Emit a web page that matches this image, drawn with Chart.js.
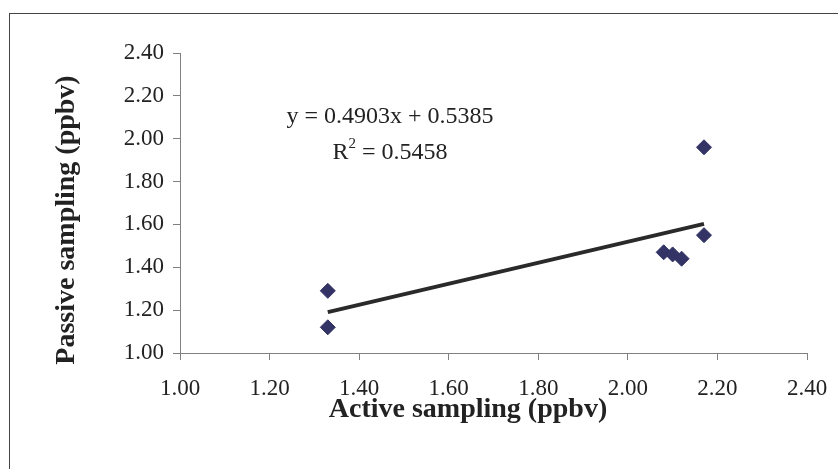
<!DOCTYPE html>
<html>
<head>
<meta charset="utf-8">
<title>Passive vs active sampling</title>
<script src="https://cdn.jsdelivr.net/npm/chart.js@4/dist/chart.umd.min.js"></script>
<style>
    html, body { margin: 0; padding: 0; background: #fff; }
    canvas { display: block; }
</style>
</head>
<body>
<canvas id="chart" width="838" height="469"></canvas>
<script>
// measured samples (ppbv)
const activeSampling = [1.33, 1.33, 2.08, 2.10, 2.12, 2.17, 2.17];
const passiveSampling = [1.29, 1.12, 1.47, 1.46, 1.44, 1.55, 1.96];

// trendline as printed on the chart
const trendSlope = [0.4903];
const trendIntercept = [0.5385];
const trendR2 = [0.5458];

const axisTicks = [1.00, 1.20, 1.40, 1.60, 1.80, 2.00, 2.20, 2.40];

const serif = '"Liberation Serif", "Times New Roman", serif';

const points = activeSampling.map(function(x, i) {
    return { x: x, y: passiveSampling[i] };
});

const xMin = Math.min.apply(null, activeSampling);
const xMax = Math.max.apply(null, activeSampling);
const trend = [xMin, xMax].map(function(x) {
    return { x: x, y: trendSlope[0] * x + trendIntercept[0] };
});

// frame, axis titles and the equation box
const extras = {
    id: 'extras',
    beforeDraw: function(chart) {
        const ctx = chart.ctx;
        ctx.save();
        ctx.fillStyle = '#fff';
        ctx.fillRect(0, 0, chart.width, chart.height);
        ctx.strokeStyle = '#444';
        ctx.lineWidth = 1;
        ctx.strokeRect(9.5, 13.5, 900, 600);
        ctx.restore();
    },
    afterDraw: function(chart) {
        const ctx = chart.ctx;
        ctx.save();
        ctx.fillStyle = '#222';
        ctx.textAlign = 'center';
        ctx.textBaseline = 'middle';

        ctx.font = 'bold 28px ' + serif;
        ctx.fillText('Active sampling (ppbv)', 468, 410);

        ctx.save();
        ctx.translate(67, 220);
        ctx.rotate(-Math.PI / 2);
        ctx.fillText('Passive sampling (ppbv)', 0, 0);
        ctx.restore();

        ctx.font = '24px ' + serif;
        const eq = 'y = ' + trendSlope[0].toFixed(4) + 'x + ' + trendIntercept[0].toFixed(4);
        ctx.fillText(eq, 390, 117);

        // R² line with a raised 2
        const left = 'R';
        const right = ' = ' + trendR2[0].toFixed(4);
        ctx.font = '24px ' + serif;
        const wL = ctx.measureText(left).width;
        const wR = ctx.measureText(right).width;
        ctx.font = '15px ' + serif;
        const wS = ctx.measureText('2').width;
        let x0 = 390 - (wL + wS + wR) / 2;
        ctx.textAlign = 'left';
        ctx.font = '24px ' + serif;
        ctx.fillText(left, x0, 153);
        ctx.font = '15px ' + serif;
        ctx.fillText('2', x0 + wL, 144);
        ctx.font = '24px ' + serif;
        ctx.fillText(right, x0 + wL + wS, 153);
        ctx.restore();
    }
};

const axisStyle = function(pos) {
    return {
        type: 'linear',
        position: pos,
        min: axisTicks[0],
        max: axisTicks[axisTicks.length - 1],
        afterBuildTicks: function(scale) {
            scale.ticks = axisTicks.map(function(v) { return { value: v }; });
        },
        grid: {
            drawOnChartArea: false,
            drawTicks: true,
            tickLength: 7,
            color: '#808080'
        },
        border: { display: true, color: '#808080', width: 1 },
        ticks: {
            color: '#222',
            font: { family: serif, size: 23 },
            padding: pos === 'left' ? 9 : 15,
            callback: function(v) { return Number(v).toFixed(2); }
        }
    };
};

const xAxis = axisStyle('bottom');
xAxis.afterFit = function(scale) {
    scale.height = 116;
    scale.paddingLeft = 0;
    scale.paddingRight = 0;
};
const yAxis = axisStyle('left');
yAxis.afterFit = function(scale) {
    scale.width = 180;
    scale.paddingTop = 0;
    scale.paddingBottom = 0;
};

new Chart(document.getElementById('chart'), {
    type: 'scatter',
    data: {
        datasets: [{
            label: 'Samples',
            data: points,
            pointStyle: 'rectRot',
            pointRadius: 7.5,
            pointHoverRadius: 7.5,
            backgroundColor: '#333366',
            borderColor: '#333366',
            borderWidth: 1,
            order: 1
        }, {
            label: 'Trend',
            type: 'line',
            data: trend,
            borderColor: '#2a2a2a',
            borderWidth: 4,
            pointRadius: 0,
            fill: false,
            order: 2
        }]
    },
    options: {
        responsive: false,
        animation: false,
        devicePixelRatio: 1,
        layout: { padding: { top: 53, right: 31, left: 0, bottom: 0 } },
        plugins: {
            legend: { display: false },
            tooltip: { enabled: false }
        },
        scales: { x: xAxis, y: yAxis }
    },
    plugins: [extras]
});
</script>
</body>
</html>
